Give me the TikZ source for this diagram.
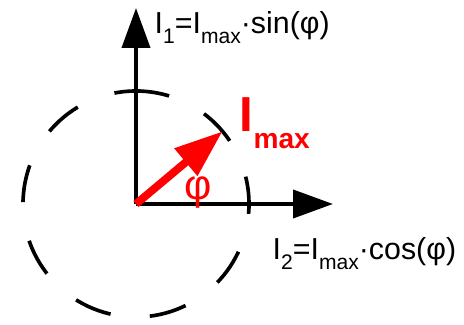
\documentclass[tikz,border=0pt]{standalone}
\usepackage{fontspec}
\setmainfont{Liberation Sans}
\usetikzlibrary{arrows.meta}
\tikzset{axis/.style={line width=2.8pt,-{Triangle[length=1.0cm,width=0.7cm]}},vec/.style={red,line width=5.6pt,-{Triangle[length=1.2cm,width=0.85cm]}},ring/.style={line width=2.6pt,dash pattern=on 0.937cm off 0.986cm},lbl/.style={inner sep=0pt,anchor=base west,font=\fontsize{21.6}{22}\selectfont}}
\newcommand{\lowtxt}[1]{\raisebox{-6.9pt}{\fontsize{15}{15}\selectfont #1}}

\begin{document}
\begin{tikzpicture}
\useasboundingbox (-3.4,-3.025) rectangle (8.2,5.1);
\coordinate (o) at (0,0);
\coordinate (ytip) at (0,4.9);
\coordinate (xtip) at (4.925,0);
\coordinate (vtip) at (40:2.825);
\draw[ring] (82:2.825) arc[start angle=82, delta angle=360, radius=2.825];
\draw[axis] (o) -- (ytip);
\draw[axis] (o) -- (xtip);
\draw[vec] (o) -- (vtip);
\node[lbl] (sinlbl) at (0.46,4.25) {I\lowtxt{1}=I\lowtxt{max}·sin(φ)};
\node[lbl] (coslbl) at (3.41,-1.4) {I\lowtxt{2}=I\lowtxt{max}·cos(φ)};
\node[lbl, text=red, font=\fontsize{35}{35}\selectfont\bfseries] (imax) at (2.59,1.8) {I\raisebox{-11.4pt}{\fontsize{20}{20}\selectfont max}};
\node[lbl, text=red, font=\fontsize{30}{30}\selectfont] (phi) at (1.2,0.1) {φ};
\end{tikzpicture}
\end{document}
